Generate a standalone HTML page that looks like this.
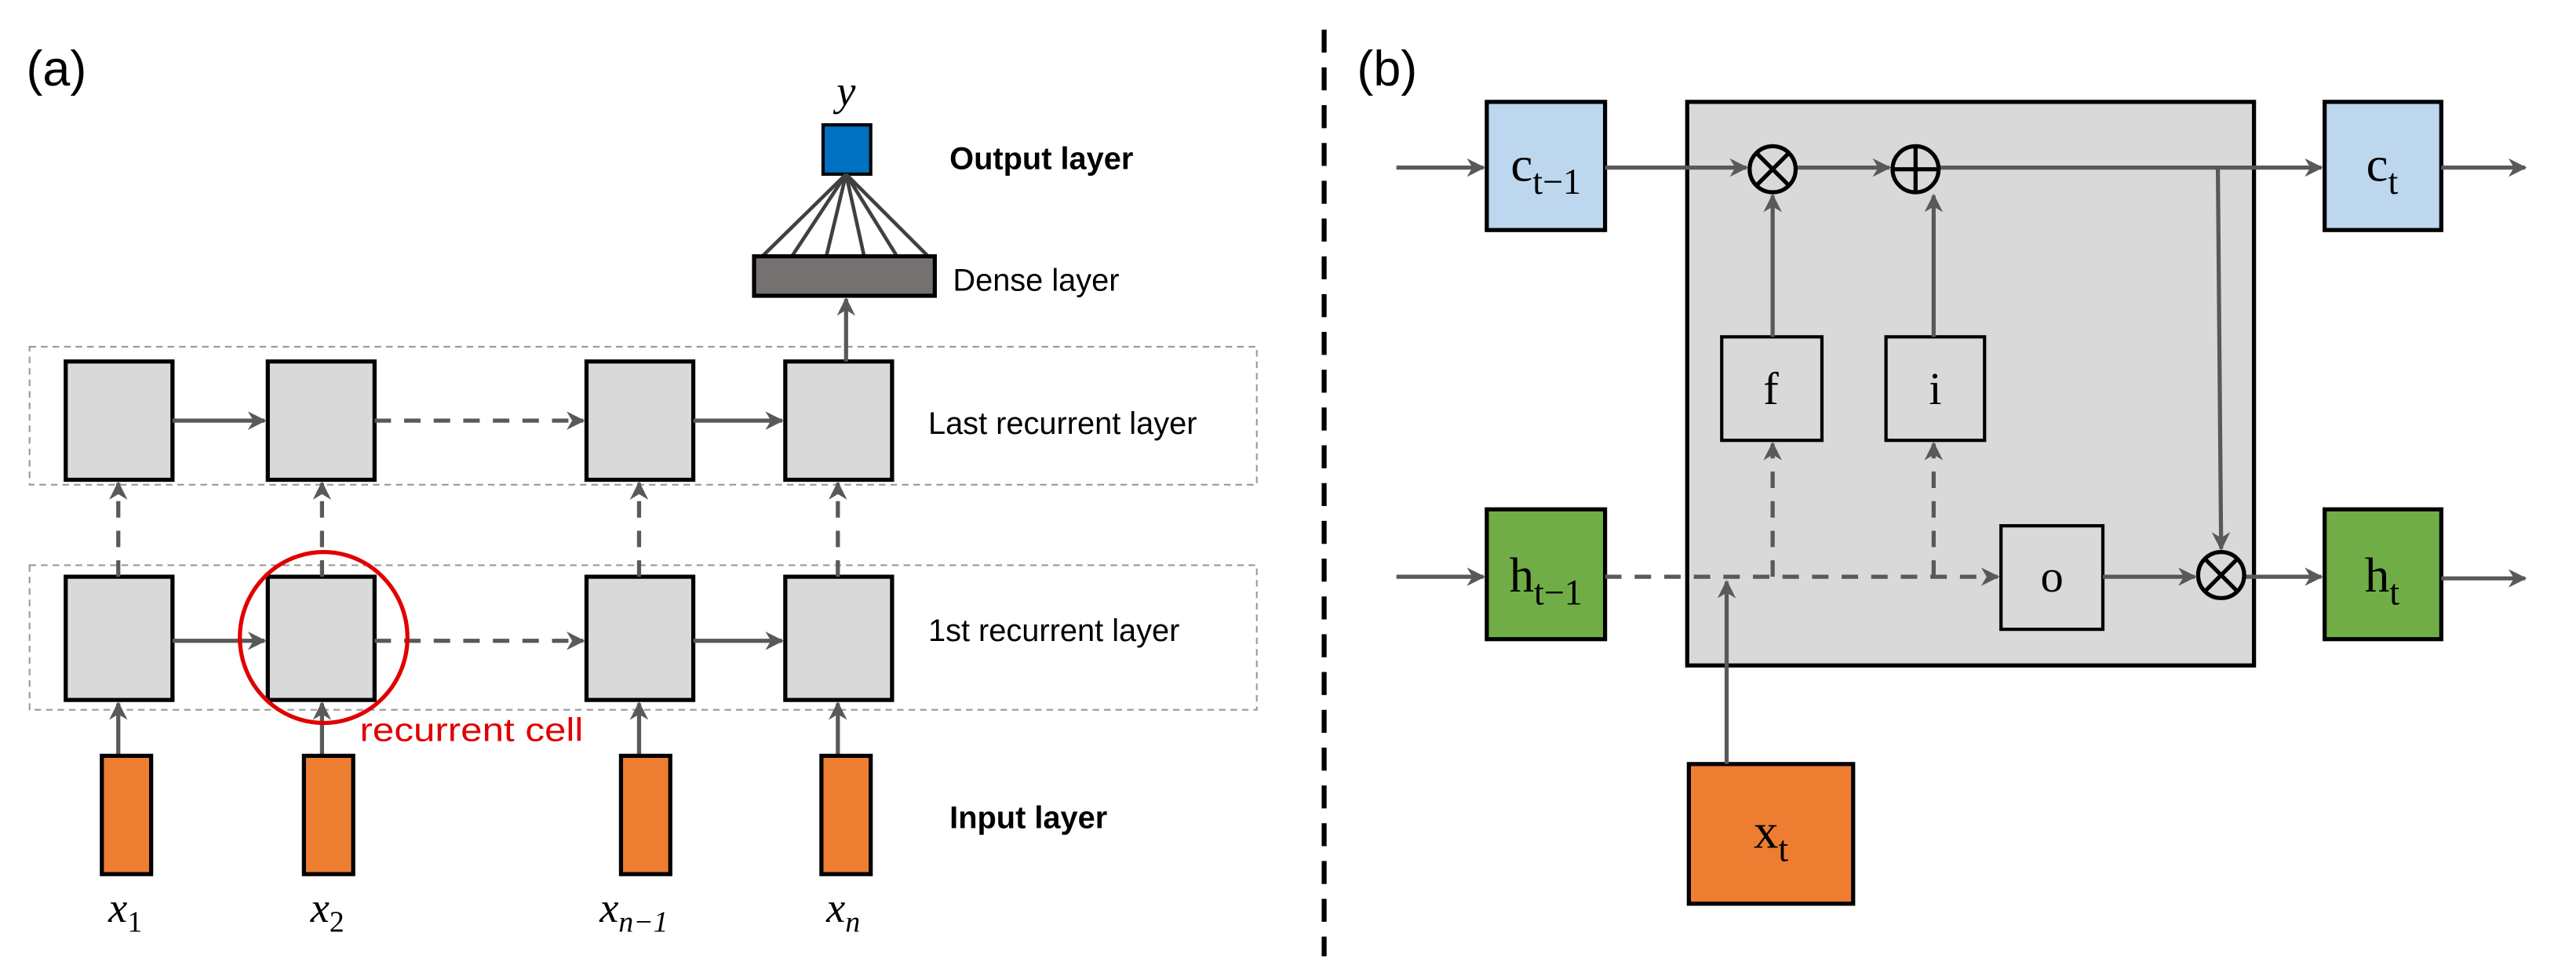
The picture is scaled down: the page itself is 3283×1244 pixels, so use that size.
<!DOCTYPE html>
<html><head><meta charset="utf-8"><style>html,body{margin:0;padding:0;background:#fff}svg{display:block}</style></head>
<body>
<svg width="3283" height="1244" viewBox="0 0 1568 594" preserveAspectRatio="none" xmlns="http://www.w3.org/2000/svg">
<defs>
<marker id="ar" viewBox="0 0 10 10" refX="9" refY="5" markerWidth="4.5" markerHeight="4.5" orient="auto" markerUnits="strokeWidth">
<path d="M0,0 L10,5 L0,10 L3,5 z" fill="#595959"/></marker>
</defs>
<g font-family="Liberation Sans, sans-serif">
<text x="16" y="52" font-size="30">(a)</text>
<text x="826" y="52" font-size="30">(b)</text>
</g>
<line x1="806" y1="18" x2="806" y2="582" stroke="#000" stroke-width="3" stroke-dasharray="14,9"/>

<!-- (a) -->
<text x="515" y="64" font-family="Liberation Serif, serif" font-style="italic" font-size="26" text-anchor="middle">y</text>
<rect x="501" y="76" width="29" height="30" fill="#0070c0" stroke="#000" stroke-width="2"/>
<g stroke="#404040" stroke-width="2.2">
<line x1="515" y1="106" x2="464" y2="156"/><line x1="515" y1="106" x2="482" y2="156"/>
<line x1="515" y1="106" x2="503" y2="156"/><line x1="515" y1="106" x2="526" y2="156"/>
<line x1="515" y1="106" x2="546" y2="156"/><line x1="515" y1="106" x2="565" y2="156"/>
</g>
<rect x="459" y="156" width="110" height="24" fill="#767171" stroke="#000" stroke-width="2.5"/>
<g font-family="Liberation Sans, sans-serif" font-size="19">
<text x="578" y="103" font-weight="bold">Output layer</text>
<text x="580" y="177">Dense layer</text>
<text x="565" y="264">Last recurrent layer</text>
<text x="565" y="390">1st recurrent layer</text>
<text x="578" y="504" font-weight="bold">Input layer</text>
<text x="219" y="451" fill="#e00000" font-size="20" textLength="136" lengthAdjust="spacingAndGlyphs">recurrent cell</text>
</g>
<rect x="18" y="211" width="747" height="84" fill="none" stroke="#999" stroke-width="1" stroke-dasharray="4,3"/>
<rect x="18" y="344" width="747" height="88" fill="none" stroke="#999" stroke-width="1" stroke-dasharray="4,3"/>
<g fill="#d9d9d9" stroke="#000" stroke-width="2.5">
<rect x="40" y="220" width="65" height="72"/><rect x="163" y="220" width="65" height="72"/>
<rect x="357" y="220" width="65" height="72"/><rect x="478" y="220" width="65" height="72"/>
<rect x="40" y="351" width="65" height="75"/><rect x="163" y="351" width="65" height="75"/>
<rect x="357" y="351" width="65" height="75"/><rect x="478" y="351" width="65" height="75"/>
</g>
<g stroke="#595959" stroke-width="2.5" fill="none">
<line x1="515" y1="220" x2="515" y2="182" marker-end="url(#ar)"/>
<line x1="105" y1="256" x2="161" y2="256" marker-end="url(#ar)"/>
<line x1="228" y1="256" x2="355" y2="256" stroke-dasharray="10,8" marker-end="url(#ar)"/>
<line x1="422" y1="256" x2="476" y2="256" marker-end="url(#ar)"/>
<line x1="105" y1="390" x2="161" y2="390" marker-end="url(#ar)"/>
<line x1="228" y1="390" x2="355" y2="390" stroke-dasharray="10,8" marker-end="url(#ar)"/>
<line x1="422" y1="390" x2="476" y2="390" marker-end="url(#ar)"/>
<line x1="72" y1="351" x2="72" y2="294" stroke-dasharray="10,8" marker-end="url(#ar)"/>
<line x1="196" y1="351" x2="196" y2="294" stroke-dasharray="10,8" marker-end="url(#ar)"/>
<line x1="389" y1="351" x2="389" y2="294" stroke-dasharray="10,8" marker-end="url(#ar)"/>
<line x1="510" y1="351" x2="510" y2="294" stroke-dasharray="10,8" marker-end="url(#ar)"/>
<line x1="72" y1="460" x2="72" y2="428" marker-end="url(#ar)"/>
<line x1="196" y1="460" x2="196" y2="428" marker-end="url(#ar)"/>
<line x1="389" y1="460" x2="389" y2="428" marker-end="url(#ar)"/>
<line x1="510" y1="460" x2="510" y2="428" marker-end="url(#ar)"/>
</g>
<ellipse cx="197" cy="388" rx="51" ry="52" fill="none" stroke="#e00000" stroke-width="2.5"/>
<g fill="#ed7d31" stroke="#000" stroke-width="2.5">
<rect x="62" y="460" width="30" height="72"/><rect x="185" y="460" width="30" height="72"/>
<rect x="378" y="460" width="30" height="72"/><rect x="500" y="460" width="30" height="72"/>
</g>
<g font-family="Liberation Serif, serif" font-style="italic" font-size="26">
<text x="66" y="561">x<tspan font-size="18" font-style="normal" dy="6">1</tspan></text>
<text x="189" y="561">x<tspan font-size="18" font-style="normal" dy="6">2</tspan></text>
<text x="365" y="561">x<tspan font-size="18" dy="6">n−1</tspan></text>
<text x="503" y="561">x<tspan font-size="18" dy="6">n</tspan></text>
</g>

<!-- (b) -->
<rect x="1027" y="62" width="345" height="343" fill="#d9d9d9" stroke="#000" stroke-width="2.5"/>
<rect x="905" y="62" width="72" height="78" fill="#bdd7ee" stroke="#000" stroke-width="2.5"/>
<rect x="1415" y="62" width="71" height="78" fill="#bdd7ee" stroke="#000" stroke-width="2.5"/>
<rect x="905" y="310" width="72" height="79" fill="#70ad47" stroke="#000" stroke-width="2.5"/>
<rect x="1415" y="310" width="71" height="79" fill="#70ad47" stroke="#000" stroke-width="2.5"/>
<rect x="1028" y="465" width="100" height="85" fill="#ed7d31" stroke="#000" stroke-width="2.5"/>
<g fill="#d9d9d9" stroke="#000" stroke-width="2">
<rect x="1048" y="205" width="61" height="63"/><rect x="1148" y="205" width="60" height="63"/>
<rect x="1218" y="320" width="62" height="63"/>
</g>
<g stroke="#595959" stroke-width="2.5" fill="none">
<line x1="850" y1="102" x2="903" y2="102" marker-end="url(#ar)"/>
<line x1="977" y1="102" x2="1063" y2="102" marker-end="url(#ar)"/>
<line x1="1093" y1="102" x2="1150" y2="102" marker-end="url(#ar)"/>
<line x1="1180" y1="102" x2="1413" y2="102" marker-end="url(#ar)"/>
<line x1="1486" y1="102" x2="1537" y2="102" marker-end="url(#ar)"/>
<line x1="1350" y1="102" x2="1352" y2="334" marker-end="url(#ar)"/>
<line x1="1079" y1="205" x2="1079" y2="119" marker-end="url(#ar)"/>
<line x1="1177" y1="205" x2="1177" y2="119" marker-end="url(#ar)"/>
<line x1="850" y1="351" x2="903" y2="351" marker-end="url(#ar)"/>
<line x1="977" y1="351" x2="1216" y2="351" stroke-dasharray="10,8" marker-end="url(#ar)"/>
<polyline points="1079,351 1079,270" stroke-dasharray="10,8" marker-end="url(#ar)"/>
<polyline points="1177,351 1177,270" stroke-dasharray="10,8" marker-end="url(#ar)"/>
<line x1="1051" y1="465" x2="1051" y2="354" marker-end="url(#ar)"/>
<line x1="1280" y1="351" x2="1336" y2="351" marker-end="url(#ar)"/>
<line x1="1366" y1="351" x2="1413" y2="351" marker-end="url(#ar)"/>
<line x1="1486" y1="352" x2="1537" y2="352" marker-end="url(#ar)"/>
</g>
<g stroke="#000" stroke-width="2.5" fill="none">
<circle cx="1079" cy="103" r="14"/>
<line x1="1069" y1="93" x2="1089" y2="113"/><line x1="1089" y1="93" x2="1069" y2="113"/>
<circle cx="1166" cy="103" r="14"/>
<line x1="1152" y1="103" x2="1180" y2="103"/><line x1="1166" y1="89" x2="1166" y2="117"/>
<circle cx="1352" cy="350" r="14"/>
<line x1="1342" y1="340" x2="1362" y2="360"/><line x1="1362" y1="340" x2="1342" y2="360"/>
</g>
<g font-family="Liberation Serif, serif" font-size="30" text-anchor="middle">
<text x="941" y="110">c<tspan font-size="22" dy="8">t−1</tspan></text>
<text x="1450" y="110">c<tspan font-size="22" dy="8">t</tspan></text>
<text x="941" y="360">h<tspan font-size="22" dy="8">t−1</tspan></text>
<text x="1450" y="360">h<tspan font-size="22" dy="8">t</tspan></text>
<text x="1078" y="516">x<tspan font-size="22" dy="8">t</tspan></text>
<text x="1078" y="246" font-size="28">f</text>
<text x="1178" y="246" font-size="28">i</text>
<text x="1249" y="360" font-size="28">o</text>
</g>
</svg>
</body></html>
